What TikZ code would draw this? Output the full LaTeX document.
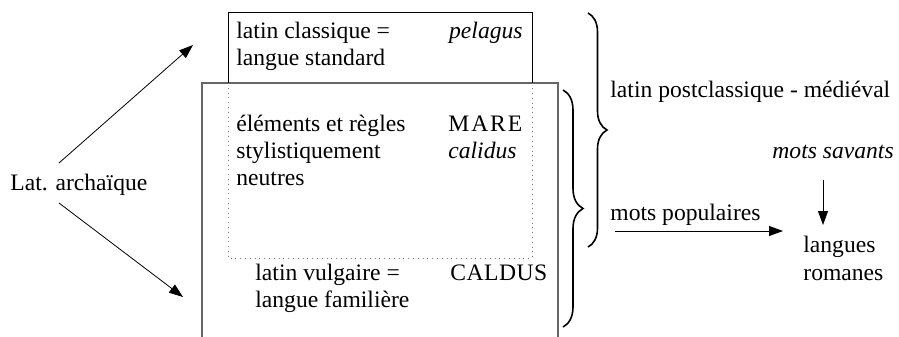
\documentclass[tikz,border=0pt]{standalone}
\usepackage{fontspec}
\setmainfont{Liberation Serif}
\newfontfamily\timesfont{Liberation Serif}
\usetikzlibrary{arrows.meta,decorations.pathreplacing}

\begin{document}
\begin{tikzpicture}[x=0.5pt, y=-0.5pt, every node/.style={font=\timesfont\fontsize{11.8}{13.5}\selectfont, inner sep=0pt, anchor=base west}, >={Triangle[length=7pt, width=5pt]}, accolade/.style={decorate, decoration={brace, amplitude=#1}, line width=0.8pt}]
	\useasboundingbox (0,0) rectangle (899,337);
	% boxes
	\draw[gray!80!black, line width=0.6pt] (202,337) -- (202,83) -- (558,83) -- (558,337);
	\draw[line width=0.4pt] (228,83) -- (228,12) -- (532,12) -- (532,83);
	\draw[gray, dotted, line width=0.4pt] (228,83) -- (228,258) -- (532,258) -- (532,83);
	% texts in the boxes
	\node (cls1) at (236,38) {latin classique =};
	\node (cls2) at (236,65) {langue standard};
	\node[anchor=base east] (pelagus) at (523,38) {\itshape pelagus};
	\node (neu1) at (236,131) {éléments et règles};
	\node (neu2) at (236,158) {stylistiquement};
	\node (neu3) at (236,185) {neutres};
	\node (mare) at (448,131) {\addfontfeature{LetterSpace=8}MARE};
	\node (calidus) at (448,158) {\itshape calidus};
	\node (vul1) at (255,280) {latin vulgaire =};
	\node (vul2) at (255,307) {langue familière};
	\node (caldus) at (450,280) {\addfontfeature{LetterSpace=2}CALDUS};
	% left side
	\node (arch) at (10,190) {Lat. archaïque};
	\coordinate (archup) at (59,163);
	\coordinate (archdown) at (59,203);
	\coordinate (toclass) at (193,45);
	\coordinate (tovulg) at (183,297);
	\draw[->, line width=0.4pt] (archup) -- (toclass);
	\draw[->, line width=0.4pt] (archdown) -- (tovulg);
	% braces
	\draw[accolade=9.5pt] (588,13) -- (588,247);
	\draw[accolade=10pt] (563,90) -- (563,327);
	% right side
	\node (postcl) at (610,97) {latin postclassique - médiéval};
	\node (savants) at (772,158) {\itshape mots savants};
	\node (popul) at (610,220) {mots populaires};
	\node (lang1) at (803,252) {langues};
	\node (lang2) at (803,280) {romanes};
	\coordinate (savfrom) at (823,180);
	\coordinate (savto) at (823,225);
	\coordinate (popfrom) at (615,231);
	\coordinate (popto) at (783,231);
	\draw[->, line width=0.4pt] (savfrom) -- (savto);
	\draw[->, line width=0.4pt] (popfrom) -- (popto);
\end{tikzpicture}
\end{document}
